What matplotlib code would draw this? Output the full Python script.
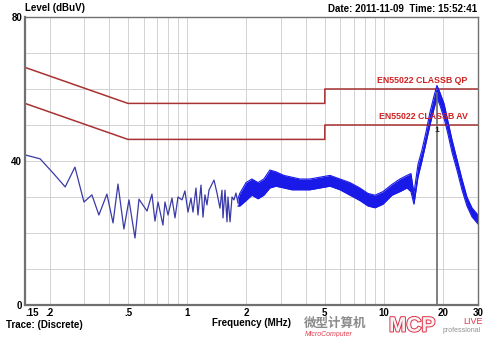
import numpy as np
import matplotlib
matplotlib.use("Agg")
import matplotlib.pyplot as plt
import matplotlib.patheffects as pe
from matplotlib.ticker import NullLocator

# limit lines (EN55022 class B), MHz / dBuV
qp_freq = [0.15, 0.5, 5, 5, 30]
qp_level = [66, 56, 56, 60, 60]
av_freq = [0.15, 0.5, 5, 5, 30]
av_level = [56, 46, 46, 50, 50]

# discrete part of the trace, read point by point
scan_freq = [0.150, 0.179, 0.208, 0.240, 0.269, 0.299, 0.328, 0.356, 0.391, 0.420,
             0.445, 0.477, 0.506, 0.543, 0.569, 0.625, 0.662, 0.686, 0.711, 0.753,
             0.771, 0.799, 0.837, 0.867, 0.898, 0.941, 0.974, 1.009, 1.045, 1.070,
             1.108, 1.134, 1.175, 1.203, 1.231, 1.260, 1.290, 1.368, 1.417, 1.467,
             1.502, 1.520, 1.556, 1.593, 1.611, 1.650, 1.689, 1.728, 1.769, 1.811]
scan_level = [41.7, 40.6, 36.7, 32.8, 38.3, 28.6, 30.6, 25.0, 30.8, 22.8,
              33.6, 21.1, 29.2, 18.6, 29.4, 26.1, 30.8, 23.3, 28.6, 22.2,
              28.6, 25.0, 29.7, 24.2, 30.0, 29.2, 31.7, 25.8, 29.7, 25.8,
              32.5, 25.0, 33.3, 24.4, 30.6, 27.8, 31.9, 34.7, 31.1, 26.9,
              31.9, 24.2, 31.9, 23.1, 30.0, 23.1, 30.0, 29.2, 31.1, 28.3]

# dense part of the trace: upper / lower envelope of the noise band
band_freq = [1.81, 1.85, 1.99, 2.13, 2.29, 2.45, 2.63, 2.82, 3.10, 3.40, 3.74, 4.20,
             4.72, 5.31, 5.97, 6.71, 7.54, 8.28, 8.99, 9.87, 10.97, 12.04, 13.07,
             13.69, 14.18, 14.86, 15.57, 16.32, 17.10, 17.92, 18.56, 19.22, 20.15,
             21.11, 22.12, 23.45, 24.87, 26.36, 27.95, 30.0]
band_hi = [29.5, 31, 34, 35, 34, 35, 37.5, 37, 36, 35.5, 35, 35,
           35.5, 36, 35, 34, 32.5, 31, 30.5, 31.5, 33.5, 35, 36,
           36.5, 31, 39, 43, 48, 53.5, 58, 61, 59, 56,
           51, 46, 40.5, 35, 30, 27, 25]
band_lo = [27.5, 27.5, 29, 30.5, 29.5, 30.5, 32.5, 33, 32.5, 32, 32, 32,
           32.5, 33, 32, 30.5, 29, 27.5, 27, 28, 30.5, 31.5, 32.5,
           31.5, 28, 35.5, 40, 45, 50, 54.5, 57.5, 55.5, 52,
           47.5, 42.5, 37.5, 32, 27.5, 24.5, 22.5]

marker_freq = 18.6

xticks = [0.15, 0.2, 0.5, 1, 2, 5, 10, 20, 30]
xtick_labels = [".15", ".2", ".5", "1", "2", "5", "10", "20", "30"]
xgrid = [0.2, 0.3, 0.4, 0.5, 0.6, 0.7, 0.8, 0.9, 1, 2, 3, 4, 5, 6, 7, 8, 9, 10, 20]

plt.rcParams['font.family'] = ['Liberation Sans', 'DejaVu Sans']

fig = plt.figure(figsize=(5, 3.37), dpi=100)
ax = fig.add_axes([25/500, 1-305/337, 453/500, 288/337])
ax.set_xscale('log')
ax.set_xlim(0.15, 30)
ax.set_ylim(0, 80)

for g in xgrid:
    ax.axvline(g, color='#d2d2d2', lw=0.7, zorder=0)
for g in range(10, 80, 10):
    ax.axhline(g, color='#d2d2d2', lw=0.7, zorder=0)

red = '#a83232'
ax.plot(qp_freq, qp_level, color=red, lw=1.1)
ax.plot(av_freq, av_level, color=red, lw=1.1)
ax.text(26.5, 61.2, "EN55022 CLASSB QP", color='#d02020', fontsize=6.3,
        fontweight='bold', ha='right', va='bottom')
ax.text(26.5, 51.2, "EN55022 CLASSB AV", color='#d02020', fontsize=6.3,
        fontweight='bold', ha='right', va='bottom')

ax.plot(scan_freq, scan_level, color='#3a3aa8', lw=0.9)
ax.fill_between(band_freq, band_lo, band_hi, color='#1a1ae8', lw=0)
ax.plot(band_freq, band_hi, color='#1a1ae8', lw=0.8)
ax.plot(band_freq, band_lo, color='#1a1ae8', lw=0.8)

ax.plot([marker_freq, marker_freq], [0, 59], color='#6a6a6a', lw=1.2)
ax.text(marker_freq, 48.5, "1", fontsize=6, fontweight='bold', ha='center',
        va='center', color='#202020')

ax.set_xticks(xticks)
ax.set_xticklabels(xtick_labels)
ax.xaxis.set_minor_locator(NullLocator())
ax.set_yticks([0, 40, 80])
ax.tick_params(length=0, labelsize=7, pad=2)
for lab in ax.get_xticklabels() + ax.get_yticklabels():
    lab.set_fontweight('bold')
ax.get_xticklabels()[0].set_horizontalalignment('left')
for s in ax.spines.values():
    s.set_color('#707070')
    s.set_linewidth(1.0)
ax.spines['left'].set_linewidth(1.6)
ax.spines['bottom'].set_linewidth(1.6)

fig.text(25/500, 1-8/337, "Level (dBuV)", fontsize=7, fontweight='bold',
         ha='left', va='center')
fig.text(477/500, 1-9/337, "Date: 2011-11-09  Time: 15:52:41", fontsize=7,
         fontweight='bold', ha='right', va='center')
fig.text(6/500, 1-325/337, "Trace: (Discrete)", fontsize=7, fontweight='bold',
         ha='left', va='center')
fig.text(252/500, 1-323/337, "Frequency (MHz)", fontsize=7, fontweight='bold',
         ha='center', va='center')

# watermark (bottom right)
fig.text(304/500, 1-323.5/337, "微型计算机", fontsize=9, fontweight='bold',
         color='#8a8a8a', family=['Noto Sans CJK SC', 'DejaVu Sans'],
         ha='left', va='center')
fig.text(305/500, 1-334/337, "MicroComputer", fontsize=5, style='italic',
         color='#e04050', ha='left', va='center')
fig.text(389/500, 1-326/337, "MCP", fontsize=15, color='#f4f4f4',
         fontweight='bold', ha='left', va='center',
         path_effects=[pe.withStroke(linewidth=1.4, foreground='#e03048')])
fig.text(463/500, 1-321/337, "LIVE", fontsize=6.5, color='#e03048',
         ha='left', va='center')
fig.text(443/500, 1-331/337, "professional", fontsize=5, color='#909090',
         ha='left', va='center')

fig.savefig("out.png", dpi=100)
